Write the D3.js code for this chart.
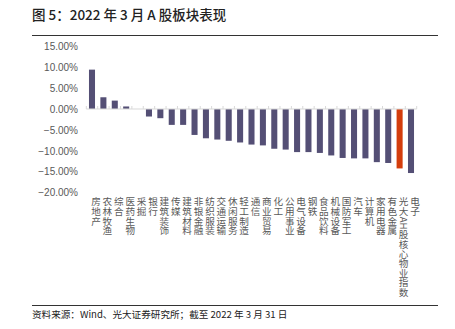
<!DOCTYPE html>
<html><head><meta charset="utf-8">
<script src="https://cdn.jsdelivr.net/npm/d3@7"></script>
<style>
html,body{margin:0;padding:0;background:#fff;}
svg{display:block;}
</style></head>
<body>
<script>
const categories = ["房地产","农林牧渔","综合","医药生物","采掘","银行","建筑装饰","传媒","建筑材料","非银金融","纺织服装","交通运输","休闲服务","轻工制造","通信","商业贸易","化工","公用事业","电气设备","钢铁","食品饮料","机械设备","国防军工","汽车","计算机","家用电器","有色金属","光大AH股核心物业指数","电子"];
const values = [9.4,2.8,2.0,0.6,0.0,-1.8,-2.2,-3.8,-3.8,-6.2,-7.0,-7.3,-7.6,-8.0,-8.5,-8.7,-9.5,-9.7,-10.3,-10.3,-10.5,-11.1,-11.7,-11.8,-11.8,-12.7,-12.9,-14.2,-15.3];
const highlight = ["光大AH股核心物业指数"];
const yTicks = [15,10,5,0,-5,-10,-15,-20];
const title = "图 5：2022 年 3 月 A 股板块表现";
const source = "资料来源：Wind、光大证券研究所；截至 2022 年 3 月 31 日";

const W = 455, H = 329;
const svg = d3.select("body").append("svg").attr("width", W).attr("height", H);

const x = d3.scaleBand().domain(categories).range([86.3, 416.7]).paddingInner(0.47).paddingOuter(0.235);
const y = d3.scaleLinear().domain([-20, 15]).range([192.7, 46.2]);

// title
svg.append("text").attr("x", 32).attr("y", 20)
  .attr("font-family", "'Noto Sans CJK SC', sans-serif").attr("font-size", 13.5).attr("font-weight", 500)
  .attr("fill", "#222").text(title);
svg.append("line").attr("x1", 32).attr("x2", 438).attr("y1", 35.5).attr("y2", 35.5)
  .attr("stroke", "#333").attr("stroke-width", 1);

// y axis labels
const yAxis = d3.axisLeft(y).tickValues(yTicks).tickSize(0).tickPadding(0)
  .tickFormat(d => d3.format(".2f")(d) + "%");
const gy = svg.append("g").attr("transform", "translate(78,0)").call(yAxis);
gy.select(".domain").remove();
gy.selectAll("text").attr("font-family", "'Liberation Sans', Arial, sans-serif")
  .attr("font-size", 10).attr("fill", "#595959");

// bars
svg.append("g").selectAll("rect").data(categories).join("rect")
  .attr("x", d => x(d))
  .attr("width", x.bandwidth())
  .attr("y", (d, i) => y(Math.max(0, values[i])))
  .attr("height", (d, i) => Math.abs(y(values[i]) - y(0)))
  .attr("fill", d => highlight.includes(d) ? "#d43d0c" : "#544f75");

// zero axis with ticks
const step = x.step();
const x0 = x.range()[0];
const gx = svg.append("g");
gx.append("line").attr("x1", x0).attr("x2", x.range()[1])
  .attr("y1", y(0)).attr("y2", y(0)).attr("stroke", "#d9d9d9").attr("stroke-width", 1);
gx.selectAll("line.tk").data(d3.range(categories.length + 1)).join("line").attr("class", "tk")
  .attr("x1", i => x0 + i * step).attr("x2", i => x0 + i * step)
  .attr("y1", y(0) - 3).attr("y2", y(0)).attr("stroke", "#d9d9d9").attr("stroke-width", 1);

// category labels (vertical, upright CJK, rotated Latin runs)
const fs = 9.6;
const labG = svg.append("g").attr("font-family", "'Noto Sans CJK SC', sans-serif")
  .attr("font-size", fs).attr("fill", "#595959");
categories.forEach(cat => {
  const cx = x(cat) + x.bandwidth() / 2 + 4;
  let cy = 197;
  const runs = cat.match(/[A-Za-z0-9]+|[^A-Za-z0-9]/g);
  const g = labG.append("g");
  runs.forEach(r => {
    if (/^[A-Za-z0-9]+$/.test(r)) {
      const t = g.append("text").attr("text-anchor", "start").text(r);
      const w = t.node().getComputedTextLength();
      t.attr("transform", `translate(${cx - fs * 0.35},${cy + 0.5}) rotate(90)`);
      cy += w + 1;
    } else {
      g.append("text").attr("x", cx).attr("y", cy + fs * 0.88)
        .attr("text-anchor", "middle").text(r);
      cy += fs;
    }
  });
});

// footer
svg.append("line").attr("x1", 32).attr("x2", 438).attr("y1", 305.5).attr("y2", 305.5)
  .attr("stroke", "#333").attr("stroke-width", 1);
svg.append("text").attr("x", 32).attr("y", 318)
  .attr("font-family", "'Noto Sans CJK SC', sans-serif").attr("font-size", 9.6)
  .attr("fill", "#222").text(source);
</script>
</body></html>
